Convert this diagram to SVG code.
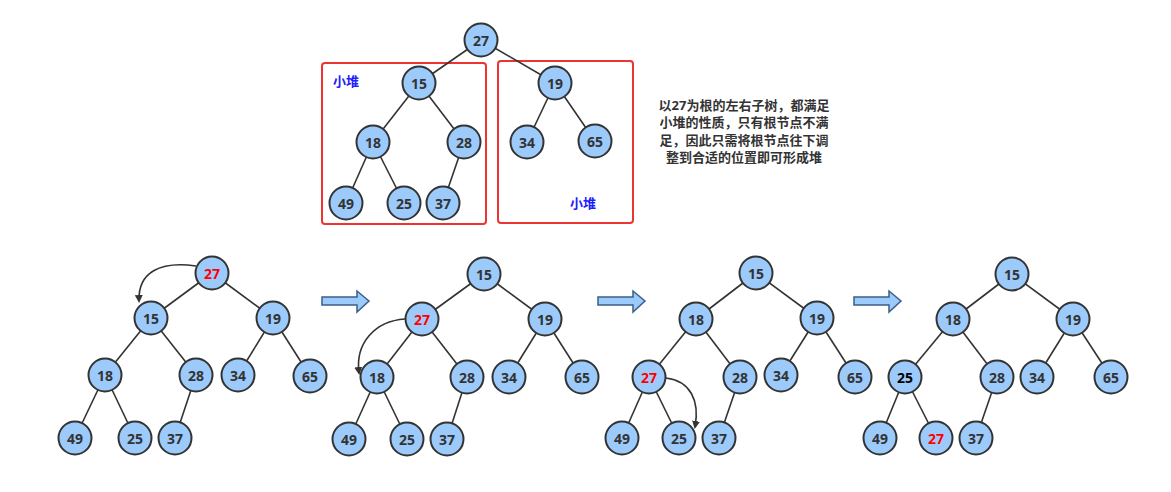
<svg xmlns="http://www.w3.org/2000/svg" width="1171" height="492" viewBox="0 0 1171 492">
<defs>
<style>
.n circle{fill:#9ccbfb;stroke:#333;stroke-width:2}
.n text{font-family:"Noto Sans","Open Sans",sans-serif;font-weight:bold;font-size:14px;fill:#333;text-anchor:middle;dominant-baseline:central}
.n text.r{fill:#ff0000}
.n text.k{fill:#000}
.e line{stroke:#333;stroke-width:1.6}
.box{fill:none;stroke:#ee3333;stroke-width:2}
.lbl{font-family:"Noto Sans","Noto Sans CJK SC",sans-serif;font-weight:bold;font-size:13px;fill:#2020ff;text-anchor:middle;dominant-baseline:central}
.note{font-family:"Noto Sans","Noto Sans CJK SC",sans-serif;font-weight:bold;font-size:13px;fill:#333;text-anchor:middle}
.barrow{fill:#9ccbfb;stroke:#3a5f8a;stroke-width:1.5}
.curve{fill:none;stroke:#333;stroke-width:1.6;marker-end:url(#ah)}
</style>
<marker id="ah" markerWidth="8" markerHeight="8" refX="6" refY="4" orient="auto" markerUnits="userSpaceOnUse">
<path d="M0,0 L8,4 L0,8 Z" fill="#333"/>
</marker>
</defs>
<rect width="1171" height="492" fill="#fff"/>

<!-- boxes and labels -->
<rect id="boxLeft" class="box" x="322" y="63" width="164" height="161" rx="3"/>
<rect id="boxRight" class="box" x="498" y="61" width="135" height="162" rx="3"/>
<text class="lbl" x="346" y="81">小堆</text>
<text class="lbl" x="583" y="203">小堆</text>
<g id="note">
<text class="note" x="744" y="110">以27为根的左右子树，都满足</text>
<text class="note" x="744" y="127">小堆的性质，只有根节点不满</text>
<text class="note" x="744" y="145">足，因此只需将根节点往下调</text>
<text class="note" x="744" y="162">整到合适的位置即可形成堆</text>
</g>

<!-- connectors -->
<g id="connectors" class="e">
<!-- top tree -->
<line x1="481" y1="40" x2="419" y2="83"/><line x1="481" y1="40" x2="555" y2="83"/>
<line x1="419" y1="83" x2="373" y2="142"/><line x1="419" y1="83" x2="464" y2="142"/>
<line x1="373" y1="142" x2="346" y2="203"/><line x1="373" y1="142" x2="404" y2="203"/>
<line x1="464" y1="142" x2="443" y2="203"/>
<line x1="555" y1="83" x2="527" y2="142"/><line x1="555" y1="83" x2="595" y2="141"/>
<!-- tree 1 -->
<line x1="212" y1="273" x2="151" y2="318"/><line x1="212" y1="273" x2="273" y2="318"/>
<line x1="151" y1="318" x2="105" y2="375"/><line x1="151" y1="318" x2="196" y2="375"/>
<line x1="105" y1="375" x2="75" y2="438"/><line x1="105" y1="375" x2="135" y2="438"/>
<line x1="196" y1="375" x2="175" y2="438"/>
<line x1="273" y1="318" x2="238" y2="375"/><line x1="273" y1="318" x2="310" y2="376"/>
<!-- tree 2 -->
<line x1="484" y1="274" x2="422" y2="319"/><line x1="484" y1="274" x2="545" y2="319"/>
<line x1="422" y1="319" x2="377" y2="377"/><line x1="422" y1="319" x2="467" y2="377"/>
<line x1="377" y1="377" x2="349" y2="439"/><line x1="377" y1="377" x2="407" y2="439"/>
<line x1="467" y1="377" x2="447" y2="439"/>
<line x1="545" y1="319" x2="509" y2="377"/><line x1="545" y1="319" x2="582" y2="377"/>
<!-- tree 3 -->
<line x1="756" y1="273" x2="696" y2="319"/><line x1="756" y1="273" x2="817" y2="318"/>
<line x1="696" y1="319" x2="649" y2="377"/><line x1="696" y1="319" x2="740" y2="377"/>
<line x1="649" y1="377" x2="622" y2="438"/><line x1="649" y1="377" x2="679" y2="438"/>
<line x1="740" y1="377" x2="719" y2="438"/>
<line x1="817" y1="318" x2="781" y2="375"/><line x1="817" y1="318" x2="855" y2="377"/>
<!-- tree 4 -->
<line x1="1012" y1="274" x2="953" y2="319"/><line x1="1012" y1="274" x2="1073" y2="319"/>
<line x1="953" y1="319" x2="905" y2="377"/><line x1="953" y1="319" x2="997" y2="377"/>
<line x1="905" y1="377" x2="880" y2="438"/><line x1="905" y1="377" x2="936" y2="438"/>
<line x1="997" y1="377" x2="976" y2="438"/>
<line x1="1073" y1="319" x2="1037" y2="377"/><line x1="1073" y1="319" x2="1111" y2="377"/>
<!-- curved move arrows -->
<path class="curve" d="M196,266 C160,261 138,272 139,301"/>
<path class="curve" d="M405,319 C375,321 355,343 359,373"/>
<path class="curve" d="M666,378 C690,381 700,400 695,427"/>
<!-- block arrows -->
<path id="barrow1" class="barrow" d="M322,297 L357,297 L357,291 L369,301 L357,312 L357,305 L322,305 Z"/>
<path id="barrow2" class="barrow" d="M598,297 L633,297 L633,291 L645,301 L633,312 L633,305 L598,305 Z"/>
<path id="barrow3" class="barrow" d="M854,297 L889,297 L889,291 L901,301 L889,312 L889,305 L854,305 Z"/>
</g>

<!-- top tree nodes -->
<g id="t0-27" class="n"><circle cx="481" cy="40" r="16.5"/><text x="481" y="40">27</text></g>
<g id="t0-15" class="n"><circle cx="419" cy="83" r="16.5"/><text x="419" y="83">15</text></g>
<g id="t0-19" class="n"><circle cx="555" cy="83" r="16.5"/><text x="555" y="83">19</text></g>
<g id="t0-18" class="n"><circle cx="373" cy="142" r="16.5"/><text x="373" y="142">18</text></g>
<g id="t0-28" class="n"><circle cx="464" cy="142" r="16.5"/><text x="464" y="142">28</text></g>
<g id="t0-34" class="n"><circle cx="527" cy="142" r="16.5"/><text x="527" y="142">34</text></g>
<g id="t0-65" class="n"><circle cx="595" cy="141" r="16.5"/><text x="595" y="141">65</text></g>
<g id="t0-49" class="n"><circle cx="346" cy="203" r="16.5"/><text x="346" y="203">49</text></g>
<g id="t0-25" class="n"><circle cx="404" cy="203" r="16.5"/><text x="404" y="203">25</text></g>
<g id="t0-37" class="n"><circle cx="443" cy="203" r="16.5"/><text x="443" y="203">37</text></g>

<!-- tree 1 -->
<g id="t1-27" class="n"><circle cx="212" cy="273" r="16.5"/><text class="r" x="212" y="273">27</text></g>
<g id="t1-15" class="n"><circle cx="151" cy="318" r="16.5"/><text x="151" y="318">15</text></g>
<g id="t1-19" class="n"><circle cx="273" cy="318" r="16.5"/><text x="273" y="318">19</text></g>
<g id="t1-18" class="n"><circle cx="105" cy="375" r="16.5"/><text x="105" y="375">18</text></g>
<g id="t1-28" class="n"><circle cx="196" cy="375" r="16.5"/><text x="196" y="375">28</text></g>
<g id="t1-34" class="n"><circle cx="238" cy="375" r="16.5"/><text x="238" y="375">34</text></g>
<g id="t1-65" class="n"><circle cx="310" cy="376" r="16.5"/><text x="310" y="376">65</text></g>
<g id="t1-49" class="n"><circle cx="75" cy="438" r="16.5"/><text x="75" y="438">49</text></g>
<g id="t1-25" class="n"><circle cx="135" cy="438" r="16.5"/><text x="135" y="438">25</text></g>
<g id="t1-37" class="n"><circle cx="175" cy="438" r="16.5"/><text x="175" y="438">37</text></g>

<!-- tree 2 -->
<g id="t2-15" class="n"><circle cx="484" cy="274" r="16.5"/><text x="484" y="274">15</text></g>
<g id="t2-27" class="n"><circle cx="422" cy="319" r="16.5"/><text class="r" x="422" y="319">27</text></g>
<g id="t2-19" class="n"><circle cx="545" cy="319" r="16.5"/><text x="545" y="319">19</text></g>
<g id="t2-18" class="n"><circle cx="377" cy="377" r="16.5"/><text x="377" y="377">18</text></g>
<g id="t2-28" class="n"><circle cx="467" cy="377" r="16.5"/><text x="467" y="377">28</text></g>
<g id="t2-34" class="n"><circle cx="509" cy="377" r="16.5"/><text x="509" y="377">34</text></g>
<g id="t2-65" class="n"><circle cx="582" cy="377" r="16.5"/><text x="582" y="377">65</text></g>
<g id="t2-49" class="n"><circle cx="349" cy="439" r="16.5"/><text x="349" y="439">49</text></g>
<g id="t2-25" class="n"><circle cx="407" cy="439" r="16.5"/><text x="407" y="439">25</text></g>
<g id="t2-37" class="n"><circle cx="447" cy="439" r="16.5"/><text x="447" y="439">37</text></g>

<!-- tree 3 -->
<g id="t3-15" class="n"><circle cx="756" cy="273" r="16.5"/><text x="756" y="273">15</text></g>
<g id="t3-18" class="n"><circle cx="696" cy="319" r="16.5"/><text x="696" y="319">18</text></g>
<g id="t3-19" class="n"><circle cx="817" cy="318" r="16.5"/><text x="817" y="318">19</text></g>
<g id="t3-27" class="n"><circle cx="649" cy="377" r="16.5"/><text class="r" x="649" y="377">27</text></g>
<g id="t3-28" class="n"><circle cx="740" cy="377" r="16.5"/><text x="740" y="377">28</text></g>
<g id="t3-34" class="n"><circle cx="781" cy="375" r="16.5"/><text x="781" y="375">34</text></g>
<g id="t3-65" class="n"><circle cx="855" cy="377" r="16.5"/><text x="855" y="377">65</text></g>
<g id="t3-49" class="n"><circle cx="622" cy="438" r="16.5"/><text x="622" y="438">49</text></g>
<g id="t3-25" class="n"><circle cx="679" cy="438" r="16.5"/><text x="679" y="438">25</text></g>
<g id="t3-37" class="n"><circle cx="719" cy="438" r="16.5"/><text x="719" y="438">37</text></g>

<!-- tree 4 -->
<g id="t4-15" class="n"><circle cx="1012" cy="274" r="16.5"/><text x="1012" y="274">15</text></g>
<g id="t4-18" class="n"><circle cx="953" cy="319" r="16.5"/><text x="953" y="319">18</text></g>
<g id="t4-19" class="n"><circle cx="1073" cy="319" r="16.5"/><text x="1073" y="319">19</text></g>
<g id="t4-25" class="n"><circle cx="905" cy="377" r="16.5"/><text class="k" x="905" y="377">25</text></g>
<g id="t4-28" class="n"><circle cx="997" cy="377" r="16.5"/><text x="997" y="377">28</text></g>
<g id="t4-34" class="n"><circle cx="1037" cy="377" r="16.5"/><text x="1037" y="377">34</text></g>
<g id="t4-65" class="n"><circle cx="1111" cy="377" r="16.5"/><text x="1111" y="377">65</text></g>
<g id="t4-49" class="n"><circle cx="880" cy="438" r="16.5"/><text x="880" y="438">49</text></g>
<g id="t4-27" class="n"><circle cx="936" cy="438" r="16.5"/><text class="r" x="936" y="438">27</text></g>
<g id="t4-37" class="n"><circle cx="976" cy="438" r="16.5"/><text x="976" y="438">37</text></g>
</svg>
